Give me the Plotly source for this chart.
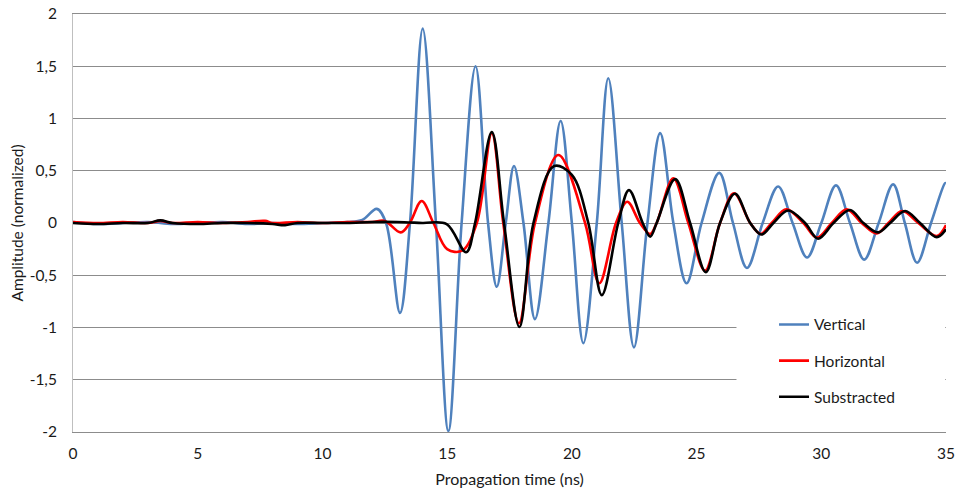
import plotly.graph_objects as go

# ---- data ----
t_vertical = [0, 1, 2, 3, 4, 5, 6, 7, 8, 9, 10, 11, 11.6, 12.18, 12.55, 13.11, 13.51, 14.02, 14.55,
              15.05, 15.58, 16.14, 16.64, 16.99, 17.35, 17.68, 18.06, 18.52, 19.06, 19.55,
              20.0, 20.46, 21.0, 21.46, 22.0, 22.49, 23.03, 23.54, 24.07, 24.6, 25.2, 25.91,
              26.46, 27.02, 27.65, 28.27, 28.85, 29.43, 30.0, 30.59, 31.15, 31.72, 32.3,
              32.88, 33.35, 33.84, 34.4, 34.96, 35.0]
a_vertical = [0.01, -0.01, 0.0, 0.01, -0.01, 0.0, 0.01, -0.01, 0.0, -0.01, 0.0, 0.01, 0.03, 0.135, 0.0,
              -0.86, 0.0, 1.86, 0.0, -1.99, 0.0, 1.50, 0.0, -0.61, 0.0, 0.545, 0.0, -0.92, 0.0,
              0.976, 0.0, -1.15, 0.0, 1.385, 0.0, -1.19, 0.0, 0.86, 0.0, -0.577, 0.0, 0.48,
              0.0, -0.43, 0.0, 0.35, 0.0, -0.33, 0.0, 0.36, 0.0, -0.35, 0.0, 0.37, 0.0,
              -0.38, 0.0, 0.38, 0.38]

t_horizontal = [0, 1, 2, 3, 3.5, 4, 5, 6, 7, 7.7, 8, 9, 10, 11, 12.0, 12.5, 13.14, 13.5, 13.98, 14.45,
                15.0, 15.6, 16.19, 16.79, 17.25, 17.88, 18.52, 19.46, 20.53, 21.1, 21.77,
                22.22, 22.73, 23.14, 23.4, 24.07, 24.67, 25.34, 25.94, 26.5, 27.15, 27.57,
                28.01, 28.6, 29.28, 29.82, 30.42, 31.02, 31.62, 32.22, 32.69, 33.24, 33.89,
                34.63, 35.0]
a_horizontal = [0.01, 0.0, 0.01, 0.0, 0.02, 0.0, 0.01, 0.0, 0.01, 0.02, 0.0, 0.01, 0.0, 0.01, 0.01, 0.02,
                -0.09, 0.0, 0.21, 0.0, -0.25, -0.265, 0.0, 0.86, 0.0, -0.96, 0.0, 0.65, 0.0,
                -0.577, 0.0, 0.204, 0.0, -0.105, 0.0, 0.427, 0.0, -0.456, 0.0, 0.284, 0.0,
                -0.105, 0.0, 0.13, 0.0, -0.14, 0.0, 0.13, 0.0, -0.10, 0.0, 0.115, 0.0,
                -0.125, -0.02]

t_substracted = [0, 1, 2, 3, 3.5, 4, 5, 6, 7, 8, 8.5, 9, 10, 11, 12, 13, 14, 14.98, 15.76, 16.12,
                 16.79, 17.28, 17.9, 18.46, 19.29, 20.0, 20.66, 21.2, 21.86, 22.29, 22.84,
                 23.14, 23.4, 24.14, 24.74, 25.37, 25.94, 26.54, 27.15, 27.6, 28.08, 28.67,
                 29.35, 29.87, 30.49, 31.15, 31.69, 32.28, 32.76, 33.36, 33.96, 34.63, 35.0]
a_substracted = [0.0, -0.01, 0.0, 0.0, 0.025, 0.0, -0.01, 0.0, 0.0, -0.01, -0.02, 0.0, 0.0, 0.0, 0.01, 0.01, 0.0,
                 -0.01, -0.28, 0.0, 0.87, 0.0, -0.995, 0.0, 0.545, 0.46, 0.0, -0.69, 0.0,
                 0.315, 0.0, -0.13, 0.0, 0.42, 0.0, -0.47, 0.0, 0.28, 0.0, -0.11, 0.0, 0.12,
                 0.0, -0.15, 0.0, 0.125, 0.0, -0.09, 0.0, 0.115, 0.0, -0.135, -0.06]

x_ticks = [0, 5, 10, 15, 20, 25, 30, 35]
y_ticks = [-2, -1.5, -1, -0.5, 0, 0.5, 1, 1.5, 2]
y_tick_labels = ["-2", "-1,5", "-1", "-0,5", "0", "0,5", "1", "1,5", "2"]

FONT = "Lato, 'Open Sans', sans-serif"

fig = go.Figure()
series = [
    ("Vertical", t_vertical, a_vertical, "#4F81BD", 2.6),
    ("Horizontal", t_horizontal, a_horizontal, "#FF0000", 2.6),
    ("Substracted", t_substracted, a_substracted, "#000000", 2.6),
]
for name, xs, ys, color, w in series:
    fig.add_trace(go.Scatter(
        x=xs, y=ys, mode="lines", name=name, legendgroup=name,
        line=dict(color=color, width=w, shape="spline", smoothing=1.0),
    ))

# white backing box behind the legend (hides gridlines there, as in the original)
fig.add_shape(type="rect", xref="x", yref="y", x0=26.6, x1=34.97, y0=-1.83, y1=-0.78,
              fillcolor="white", line=dict(width=0), layer="between")

fig.update_layout(
    width=959, height=492,
    margin=dict(l=73, r=13, t=14, b=60, autoexpand=False),
    paper_bgcolor="white", plot_bgcolor="white",
    font=dict(family=FONT, size=15, color="#1a1a1a"),
    showlegend=True,
    legend=dict(x=0.803, y=0.297, xanchor="left", yanchor="top",
                bgcolor="rgba(0,0,0,0)", font=dict(size=15.5, family=FONT),
                tracegroupgap=13, itemwidth=30),
    xaxis=dict(range=[0, 35], tickvals=x_ticks, showgrid=False, zeroline=False,
               automargin=False, ticklabelstandoff=7, ticklabeloverflow="allow",
               showline=True, mirror=True, linecolor="#8C8C8C", linewidth=1, ticks="",
               title=dict(text="Propagation time (ns)", font=dict(size=16), standoff=13),
               tickfont=dict(size=15.5)),
    yaxis=dict(range=[-2, 2], tickvals=y_ticks, ticktext=y_tick_labels,
               showgrid=True, gridcolor="#8C8C8C", gridwidth=1, zeroline=False,
               automargin=False, ticklabelstandoff=12, ticklabeloverflow="allow",
               showline=True, linecolor="#BFBFBF", linewidth=1, ticks="",
               title=dict(text="Amplitude (normalized)", font=dict(size=15.5), standoff=2),
               tickfont=dict(size=15.5)),
)

fig.write_html("out.html", config={"displayModeBar": False},
               post_script="document.body.style.margin='0';")
